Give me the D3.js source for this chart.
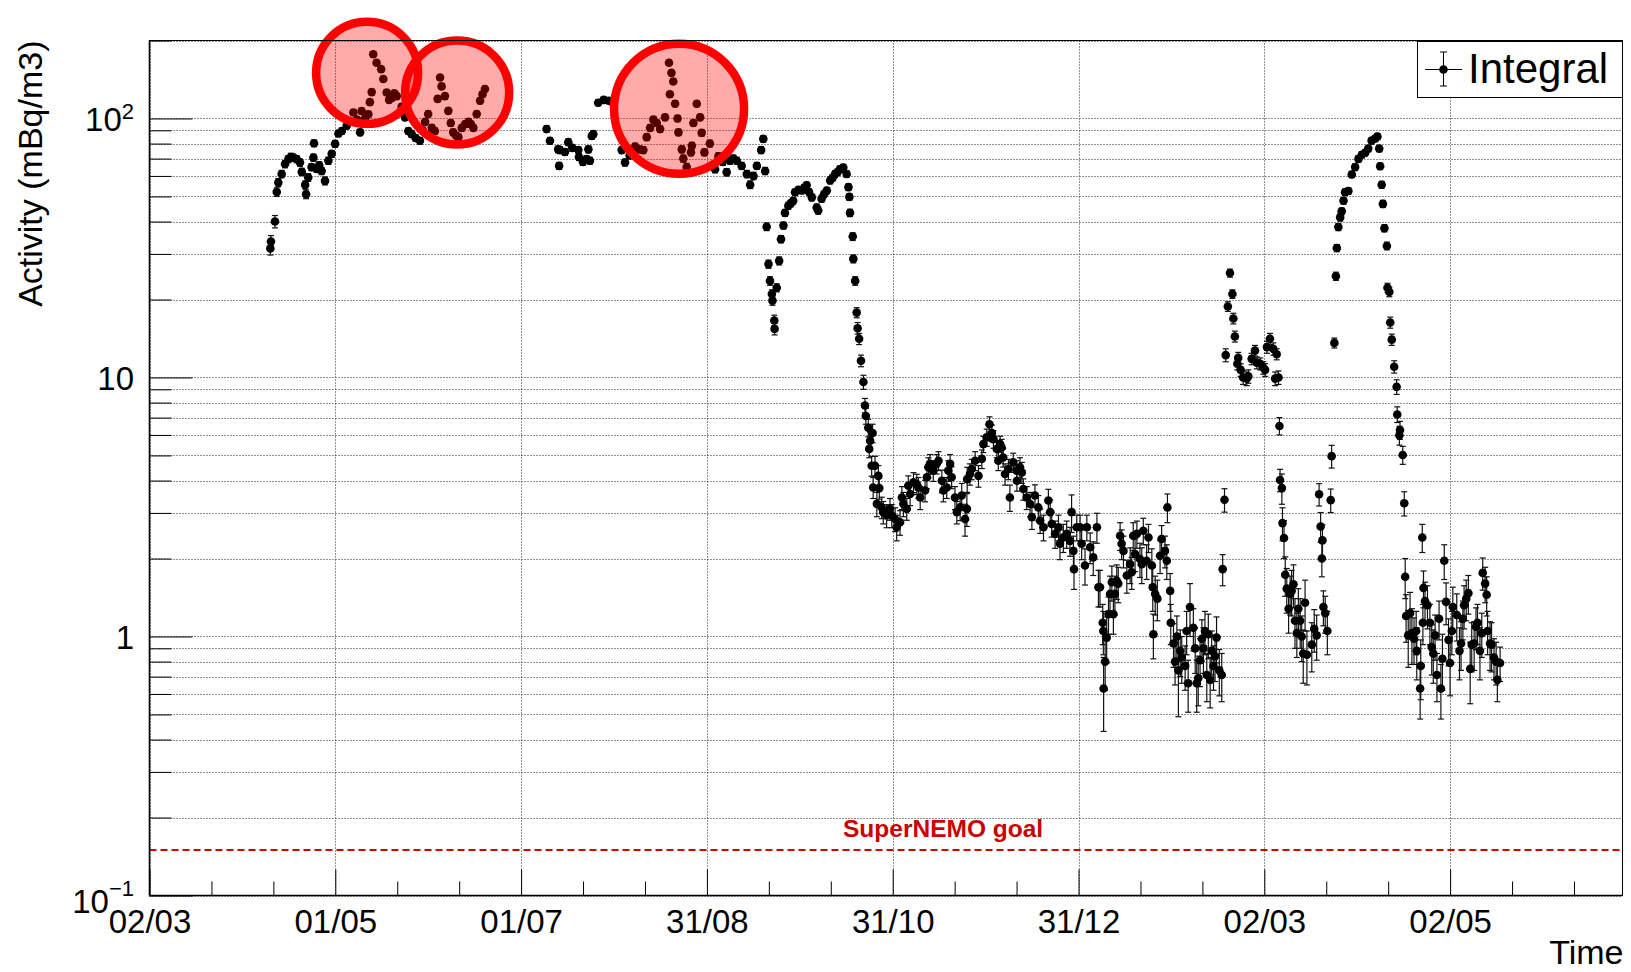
<!DOCTYPE html>
<html><head><meta charset="utf-8">
<script src="https://cdn.jsdelivr.net/npm/d3@7"></script>
<style>
body{margin:0;background:#fff}
svg{display:block}
text{font-family:"Liberation Sans",Arial,Helvetica,sans-serif}
</style>
</head><body>
<svg id="chart" width="1631" height="972"></svg>
<script>
// ---------------- DATA ----------------
// x: days since 02/03 (first year), y: activity (mBq/m3), err: error (mBq/m3)
const springData = [[39.6,31.5,1.8],[39.8,33.5,1.8],[41.1,40,2.2],[41.7,52,2],[42.2,56.6,2],[43.3,61,2],[44.4,66.7,2.2],[45.5,69.7,2.2],[46.3,71,2.4],[47.1,70.6,2.2],[48.2,69.7,2.2],[49.3,67.6,2.2],[49.9,62.2,2],[51.0,55.4,2],[51.3,51,2],[52.0,59.2,2],[53.1,64.9,2],[53.7,70.6,2.2],[53.9,80.2,2.4],[54.8,63.9,2],[55.6,66,2],[56.4,62.7,2],[57.5,57.4,2],[58.6,68.7,2.2],[59.7,73,2.2],[60.8,79.8,2.4],[61.9,87.5,2.5],[63.0,89.4,2.5],[64.6,93.8,2.6],[65.5,97,2.6],[66.8,105.5,2.8],[68.0,99,2.7],[69.0,88.4,2.5],[69.5,106.8,2.8],[70.6,100,2.7],[71.7,103.8,2.8],[72.2,115.6,3],[72.8,126.4,3.2],[73.3,177,4],[74.4,164,3.8],[75.9,155,3.6],[76.6,142,3.4],[77.7,126,3.2],[78.5,118,3],[79.4,120,3],[80.2,125,3.2],[81.0,122,3],[82.6,111,3],[83.7,101,2.8],[84.8,89.4,2.5],[85.9,87,2.5],[87.2,84,2.4],[88.6,82,2.4],[89.5,90,2.5],[90.3,97,2.6],[91.3,104,2.8],[92.5,92,2.6],[93.5,89.4,2.5],[94.4,119,3],[95.2,144,3.4],[95.7,133,3.2],[96.8,122,3],[97.9,107,2.8],[98.7,96,2.6],[99.5,88.4,2.5],[100.4,86,2.4],[101.2,84.7,2.4],[102.3,92,2.6],[103.4,95,2.6],[104.5,97,2.6],[105.3,95,2.6],[106.1,92,2.6],[107.2,104,2.8],[108.3,117,3],[109.1,124,3],[109.9,130,3.2]];

const summerData = [[130.1,91,2.6],[131.2,82,2.4],[133.9,76,2.3],[134.2,65.6,2],[134.5,75.5,2.3],[136.1,74.2,2.2],[137.2,81,2.4],[138.5,77,2.3],[140.5,75.5,2.3],[140.7,71,2.2],[142.0,68,2.1],[143.2,69.7,2.1],[143.8,76,2.3],[144.3,68.7,2.1],[144.9,85.6,2.5],[145.4,87,2.5],[147.0,115,3],[148.8,118,3],[150.5,117,3],[152.0,114,3],[154.7,75.5,2.3],[155.8,67.6,2.1],[157.3,72,2.2],[159.1,77.9,2.3],[160.5,76,2.3],[161.8,75.5,2.3],[162.9,84.7,2.5],[164.0,92,2.6],[165.1,99,2.7],[166.2,96,2.6],[167.3,91,2.6],[168.9,101,2.8],[170.2,164,3.8],[170.5,124,3.1],[171.0,150,3.5],[171.6,139,3.3],[172.2,114,3],[173.0,100,2.8],[173.3,88.4,2.5],[174.4,76,2.3],[174.9,70,2.2],[176.0,65,2.1],[177.4,74,2.2],[177.7,78.5,2.3],[178.2,96,2.6],[179.3,114,3],[180.4,101,2.8],[180.9,88,2.5],[181.8,74,2.2],[183.6,80,2.4],[185.3,63.7,2],[186.4,71.5,2.2],[187.8,68,2.1],[189.1,62,2],[190.2,68.7,2.1],[191.3,70,2.2],[192.4,68.7,2.1],[194.0,65.6,2],[195.7,61,2],[196.8,55.5,1.9],[197.9,60,2],[199.0,65.6,2],[200.4,75.5,2.3],[201.1,83.4,2.4],[201.7,62.7,2]];

const autumnData = [[202.2,38.2,1.3],[202.8,27.4,1],[203.3,23.6,0.9],[203.9,21,0.8],[204.1,19.8,0.8],[204.7,16.6,0.8],[204.8,15.4,0.8],[205.5,22.2,0.8],[206.3,28.2,1],[206.9,34.2,1.1],[207.7,38.6,1.2],[208.2,43.2,1.3],[209.3,46,1.4],[210.1,47,1.4],[210.9,48.1,1.4],[211.5,51.9,1.5],[212.6,53,1.5],[213.7,52.7,1.5],[214.5,54,1.6],[215.3,55.2,1.6],[216.1,52,1.5],[217.0,49.6,1.5],[218.6,45.3,1.4],[219.1,44.1,1.4],[220.2,49,1.5],[221.0,51,1.5],[221.9,52.7,1.5],[223.0,57.6,1.7],[223.8,59,1.7],[224.6,61,1.8],[225.4,62,1.8],[226.2,63.7,1.8],[227.3,64.6,1.9],[228.4,61,1.8],[229.0,54.3,1.6],[229.3,49.8,1.5],[229.5,43.2,1.4],[230.4,35,1.2],[230.6,28.7,1],[231.2,23.6,0.9],[231.7,17.8,0.8],[232.0,15.5,0.8],[232.5,14.1,0.7],[233.1,11.6,0.6],[233.9,9.6,0.6],[234.4,7.8,0.5],[234.7,7.1,0.5],[235.5,6.4,0.5],[235.8,5.3,0.4],[236.1,5.7,0.45],[236.6,4.56,0.4],[236.9,6.1,0.5],[237.1,3.76,0.35],[237.7,4.56,0.4],[238.3,3.25,0.35],[238.8,4.17,0.4],[239.1,3.74,0.35],[239.9,3.15,0.3],[240.4,3.02,0.3],[241.5,2.93,0.3],[242.6,3.11,0.3],[243.2,2.93,0.3],[244.3,2.84,0.3],[244.8,2.64,0.3],[245.9,2.76,0.3],[246.5,3.44,0.35],[247.0,3.25,0.35],[248.1,3.11,0.3],[248.6,3.82,0.35],[249.2,3.55,0.35],[250.3,3.94,0.35],[251.4,3.88,0.35],[251.9,3.76,0.35],[252.5,3.44,0.35],[254.1,3.66,0.35],[254.7,4.12,0.4],[255.2,4.5,0.4],[255.7,4.64,0.4],[256.8,4.37,0.4],[257.9,4.64,0.4],[258.5,4.77,0.4],[259.6,3.99,0.4],[260.1,3.66,0.35],[261.2,3.76,0.35],[261.7,4.37,0.4],[262.3,4.64,0.4],[262.8,4.12,0.4],[263.9,3.44,0.35],[264.5,3.02,0.3],[265.6,3.15,0.35],[266.1,3.5,0.4],[267.2,2.84,0.4],[267.8,3.11,0.45],[267.9,4.05,0.45],[268.8,4.24,0.4],[269.4,4.43,0.4],[270.5,4.77,0.4],[271.6,4.17,0.4],[272.7,4.85,0.4],[273.2,5.53,0.4],[274.3,5.87,0.45],[275.2,6.6,0.45],[276.0,6.1,0.45],[276.5,5.78,0.45],[277.6,5.3,0.4],[278.1,4.77,0.4],[278.7,5.53,0.4],[279.2,5.37,0.4],[279.7,4.91,0.4],[280.3,4.24,0.4],[281.4,4.43,0.4],[281.9,3.44,0.4],[283.0,4.7,0.4],[284.1,4.37,0.4],[284.2,3.99,0.35],[285.2,4.5,0.4],[285.8,4.3,0.4],[286.3,3.71,0.35],[287.4,3.44,0.35],[288.5,3.25,0.35],[289.1,2.89,0.3],[290.1,3.5,0.35],[291.2,3.15,0.35],[291.8,2.8,0.3],[292.9,2.64,0.3],[294.5,3.35,0.35],[295.1,3.02,0.35],[295.6,2.72,0.3],[296.7,2.49,0.3],[297.8,2.64,0.3],[298.3,2.28,0.3],[299.4,2.41,0.3],[300.5,2.49,0.3],[301.6,2.34,0.3],[302.1,3.02,0.5],[302.7,2.14,0.3],[302.9,1.82,0.3],[303.8,2.64,0.3],[304.9,2.64,0.3],[305.4,2.28,0.3],[306.5,1.88,0.3],[307.1,2.64,0.3],[308.2,2.21,0.3],[309.2,2.02,0.3],[310.4,2.64,0.35],[310.9,1.55,0.25]];

const winterData = [[311.4,1.55,0.25],[312.3,1.13,0.2],[312.5,1.05,0.2],[312.6,0.63,0.2],[313.1,0.8,0.18],[313.6,0.99,0.2],[314.2,1.22,0.2],[314.7,1.46,0.25],[315.3,1.62,0.25],[315.8,1.22,0.2],[316.3,1.46,0.25],[316.9,1.64,0.25],[317.4,1.6,0.25],[318.0,2.45,0.3],[318.5,2.28,0.3],[319.1,2.14,0.3],[320.2,1.72,0.25],[321.3,1.9,0.3],[321.8,1.77,0.25],[322.3,2.45,0.3],[322.9,2.08,0.3],[323.5,2.49,0.3],[324.5,1.99,0.3],[325.1,1.9,0.3],[325.6,2.56,0.3],[326.7,1.96,0.3],[327.3,2.41,0.3],[328.4,1.88,0.3],[328.7,1.55,0.3],[328.9,1.02,0.2],[329.5,1.46,0.25],[330.2,1.4,0.25],[331.1,2.05,0.3],[331.6,2.38,0.3],[332.7,2.14,0.3],[333.3,1.96,0.3],[333.5,3.15,0.4],[334.4,1.5,0.25],[334.6,1.13,0.2],[335.5,0.94,0.18],[336.0,0.8,0.15],[336.6,1.0,0.2],[337.1,0.74,0.25],[337.7,0.88,0.18],[338.2,0.83,0.17],[339.3,0.77,0.15],[339.8,1.05,0.2],[340.3,0.66,0.15],[340.9,1.3,0.3],[342.0,1.08,0.2],[342.6,0.9,0.18],[343.1,0.66,0.15],[343.6,0.69,0.15],[344.2,0.81,0.17],[344.8,0.98,0.18],[345.3,0.9,0.18],[345.8,1.05,0.2],[346.4,0.71,0.15],[346.9,1.02,0.2],[347.5,0.68,0.15],[348.0,0.88,0.17],[348.6,0.77,0.15],[349.1,0.84,0.17],[349.6,0.99,0.2],[350.5,0.74,0.15],[351.3,0.71,0.15],[351.6,1.82,0.25],[352.2,3.37,0.35]];

const spring2Data = [[352.6,12.2,0.7],[353.3,18.8,0.8],[354.0,25.3,0.9],[354.8,21,0.8],[355.1,16.9,0.8],[355.6,14.4,0.7],[356.4,11.3,0.6],[356.7,11.9,0.6],[357.5,10.7,0.6],[358.3,10.0,0.6],[359.5,9.9,0.6],[360.0,10.1,0.6],[361.1,11.8,0.6],[362.2,12.7,0.6],[362.8,11.4,0.6],[363.9,11.3,0.6],[364.9,10.9,0.6],[365.5,10.7,0.6],[366.1,13.1,0.7],[367.1,14.1,0.7],[368.2,12.9,0.7],[368.8,9.9,0.6],[369.3,12.3,0.6],[369.9,10.0,0.6],[370.2,6.5,0.5],[370.4,4.02,0.4],[371.0,3.74,0.5],[371.2,2.74,0.4],[371.7,2.4,0.4],[372.1,1.73,0.3],[372.6,1.53,0.3],[373.2,1.28,0.25],[373.7,1.46,0.25],[374.2,1.5,0.3],[374.8,1.59,0.3],[375.3,1.15,0.25],[375.9,1.03,0.2],[376.4,1.28,0.25],[377.0,1.15,0.25],[377.5,1.0,0.2],[378.0,0.86,0.2],[378.6,1.35,0.3],[379.2,0.85,0.2],[380.8,0.93,0.2],[381.6,1.07,0.2],[382.4,1.01,0.2],[383.2,3.54,0.35],[383.7,2.66,0.35],[384.1,2.0,0.3],[384.3,2.35,0.35],[384.6,1.3,0.2],[385.2,1.23,0.2],[385.9,1.05,0.2],[387.0,3.36,0.35],[387.3,4.97,0.5],[388.2,13.6,0.6],[388.7,24.6,0.9],[389.0,31.6,1],[389.5,38.1,1.2],[390.1,41.5,1.3],[390.6,43.8,1.3],[391.2,48.1,1.4],[391.7,51.9,1.5],[392.8,52.5,1.5],[393.9,60.8,1.7],[395.0,64.9,1.8],[396.1,69.8,2],[397.2,72.4,2],[398.3,73.7,2],[399.3,76.5,2.1],[400.4,82.1,2.2],[401.6,83.7,2.3],[402.3,85.2,2.3],[402.9,76.5,2.1],[403.2,65.4,1.9],[403.7,55.5,1.7],[404.1,46.8,1.5],[404.6,37.7,1.2],[405.4,32.2,1.1],[405.6,22.2,0.9],[406.2,21.4,0.9],[406.5,16.3,0.8],[407.0,14.0,0.7],[407.8,11.0,0.6],[408.6,9.2,0.6],[408.8,7.2,0.5],[409.5,5.98,0.5],[409.7,6.27,0.5],[410.6,5.02,0.4],[411.1,3.27,0.35],[411.4,1.70,0.3],[411.7,1.20,0.25],[412.4,1.01,0.25],[413.0,1.23,0.25],[413.6,1.03,0.25],[414.3,0.98,0.2],[415.0,1.05,0.2],[415.2,0.88,0.2],[416.3,0.63,0.15],[416.5,0.77,0.2],[417.0,2.41,0.3],[417.2,1.13,0.2],[417.4,1.54,0.25],[417.9,1.37,0.25],[418.7,1.32,0.25],[419.5,1.13,0.2],[420.1,0.91,0.2],[420.6,0.86,0.2],[421.2,1.01,0.2],[421.8,0.71,0.15],[422.5,1.17,0.2],[423.1,0.63,0.15],[423.6,0.82,0.2],[424.2,1.96,0.3],[424.8,1.36,0.25],[425.6,0.97,0.2],[426.1,0.79,0.2],[426.7,1.05,0.2],[427.0,1.30,0.25],[428.3,1.21,0.25],[429.2,0.88,0.2],[429.7,0.94,0.2],[430.3,1.17,0.2],[430.7,1.32,0.25],[431.4,1.40,0.25],[432.1,1.47,0.25],[432.7,0.75,0.2],[433.2,0.93,0.2],[434.0,0.94,0.2],[434.6,1.09,0.2],[435.1,1.13,0.2],[435.9,0.88,0.2],[436.5,1.03,0.2],[436.8,1.76,0.25],[437.6,1.60,0.25],[438.1,1.45,0.25],[438.4,1.05,0.2],[439.2,0.94,0.2],[439.7,0.93,0.2],[440.5,0.83,0.15],[441.2,0.80,0.15],[441.6,0.68,0.12],[442.5,0.79,0.12]];

// x axis: tick positions (days since 02/03) and labels
const xTickDays   = [0, 60.875, 121.75, 182.625, 243.5, 304.375, 365.25, 426.125];
const xTickLabels = ["02/03","01/05","01/07","31/08","31/10","31/12","02/03","02/05"];
const xMinorDays  = [20.29, 40.58, 81.17, 101.46, 142.04, 162.33, 202.92, 223.21, 263.79, 284.08, 324.67, 344.96, 385.54, 405.83, 446.42, 466.71];
const xDomainDays = [0, 482.6];

// y axis: log decades, labels (base + exponent)
const yDomain      = [0.1, 200];
const yMajorTicks  = [0.1, 1, 10, 100];
const yMajorBase   = ["10", "1", "10", "10"];
const yMajorExp    = ["\u22121", "", "", "2"];
const yMinorTicks  = [0.2,0.3,0.4,0.5,0.6,0.7,0.8,0.9,2,3,4,5,6,7,8,9,20,30,40,50,60,70,80,90,200];

// reference level and annotation circles (centre in data units)
const goalValue = 0.15;
const goalLabel = "SuperNEMO goal";
const highlightCentres = [[71.3, 150], [100.8, 126], [173.5, 109]];
const highlightRadii   = [51, 52, 65];

const yTitle = "Activity (mBq/m3)";
const xTitle = "Time";
const legendLabel = "Integral";

// ---------------- DRAW ----------------
const svg = d3.select("#chart");
const L = 149.5, R = 1622.5, T = 40.5, B = 895.5;
const x = d3.scaleLinear().domain(xDomainDays).range([L, R]);
const y = d3.scaleLog().domain(yDomain).range([B, T]);

svg.append("rect").attr("width",1631).attr("height",972).attr("fill","#fff");

// grid
const grid = svg.append("g").attr("stroke","#222").attr("stroke-width",1).attr("stroke-dasharray","1 2");
grid.selectAll("line.h").data(yMajorTicks.concat(yMinorTicks)).join("line")
  .attr("x1",L).attr("x2",R)
  .attr("y1",d=>Math.round(y(d))+0.5).attr("y2",d=>Math.round(y(d))+0.5);
grid.selectAll("line.v").data(xTickDays).join("line")
  .attr("x1",d=>Math.round(x(d))+0.5).attr("x2",d=>Math.round(x(d))+0.5)
  .attr("y1",T).attr("y2",B);

// goal line
svg.append("line")
  .attr("x1",L).attr("x2",R)
  .attr("y1",y(goalValue)).attr("y2",y(goalValue))
  .attr("stroke","#d40000").attr("stroke-width",2).attr("stroke-dasharray","7 4");
svg.append("text")
  .attr("x", x(260)).attr("y", y(goalValue)-13)
  .attr("text-anchor","middle").attr("font-weight","bold")
  .attr("font-size",24.5).attr("fill","#cc0000")
  .text(goalLabel);

// data
const allData = springData.concat(summerData, autumnData, winterData, spring2Data);
const eb = svg.append("g").attr("stroke","#111").attr("stroke-width",1.2);
allData.forEach(d=>{
  const cx = x(d[0]);
  const y1 = y(d[1]+d[2]), y0 = y(Math.max(d[1]-d[2], 0.101));
  eb.append("line").attr("x1",cx).attr("x2",cx).attr("y1",y0).attr("y2",y1);
  eb.append("line").attr("x1",cx-3).attr("x2",cx+3).attr("y1",y0).attr("y2",y0);
  eb.append("line").attr("x1",cx-3).attr("x2",cx+3).attr("y1",y1).attr("y2",y1);
});
svg.append("g").selectAll("circle").data(allData).join("circle")
  .attr("cx",d=>x(d[0])).attr("cy",d=>y(d[1])).attr("r",4.3).attr("fill","#000");

// highlight circles
svg.append("g").selectAll("circle").data(highlightCentres).join("circle")
  .attr("cx",d=>x(d[0])).attr("cy",d=>y(d[1]))
  .attr("r",(d,i)=>highlightRadii[i])
  .attr("fill","rgba(255,0,0,0.33)").attr("stroke","#ff0000").attr("stroke-width",8.5);

// axes (ticks)
const yMajAxis = d3.axisLeft(y).tickValues(yMajorTicks).tickSize(-43).tickSizeOuter(0).tickFormat("");
const yMinAxis = d3.axisLeft(y).tickValues(yMinorTicks).tickSize(-22).tickSizeOuter(0).tickFormat("");
const gy1 = svg.append("g").attr("transform",`translate(${L},0)`).call(yMajAxis);
const gy2 = svg.append("g").attr("transform",`translate(${L},0)`).call(yMinAxis);
[gy1,gy2].forEach(g=>{g.select(".domain").remove(); g.selectAll("line").attr("stroke","#000");});

const xMajAxis = d3.axisBottom(x).tickValues(xTickDays).tickSize(-26).tickSizeOuter(0).tickFormat((d,i)=>xTickLabels[i]);
const xMinAxis = d3.axisBottom(x).tickValues(xMinorDays).tickSize(-14).tickSizeOuter(0).tickFormat("");
const gx1 = svg.append("g").attr("transform",`translate(0,${B})`).call(xMajAxis);
const gx2 = svg.append("g").attr("transform",`translate(0,${B})`).call(xMinAxis);
[gx1,gx2].forEach(g=>{g.select(".domain").remove(); g.selectAll("line").attr("stroke","#000");});
gx1.selectAll("text").attr("font-size",33).attr("fill","#000")
  .attr("font-family",'"Liberation Sans",Arial,sans-serif')
  .attr("dy",null).attr("y",37);

// y labels
yMajorTicks.forEach((v,i)=>{
  const yy = y(v) + (i===0 ? 17 : 12.5);
  const t = svg.append("text").attr("text-anchor","end").attr("font-size",33).attr("fill","#000");
  if (yMajorExp[i]) {
    t.attr("x",134).attr("y",yy);
    t.append("tspan").text(yMajorBase[i]);
    t.append("tspan").attr("font-size",22).attr("dy",i===0?-17:-12).text(yMajorExp[i]);
  } else {
    t.attr("x",134).attr("y",yy).text(yMajorBase[i]);
  }
});

// frame
svg.append("rect").attr("x",L).attr("y",T).attr("width",R-L).attr("height",B-T)
  .attr("fill","none").attr("stroke","#000").attr("stroke-width",1);
svg.append("line").attr("x1",L).attr("x2",L).attr("y1",T).attr("y2",B).attr("stroke","#000").attr("stroke-width",1.6);
svg.append("line").attr("x1",L).attr("x2",R).attr("y1",B).attr("y2",B).attr("stroke","#000").attr("stroke-width",1.6);

// titles
svg.append("text").attr("transform",`translate(41.5,${T}) rotate(-90)`)
  .attr("text-anchor","end").attr("font-size",34).attr("fill","#000").text(yTitle);
svg.append("text").attr("x",R+1).attr("y",964)
  .attr("text-anchor","end").attr("font-size",34).attr("fill","#000").text(xTitle);

// legend
const lg = svg.append("g");
lg.append("rect").attr("x",1417.5).attr("y",41.5).attr("width",205).attr("height",56)
  .attr("fill","#fff").attr("stroke","#000").attr("stroke-width",1);
lg.append("line").attr("x1",1425).attr("x2",1462).attr("y1",69.5).attr("y2",69.5).attr("stroke","#000");
lg.append("line").attr("x1",1443.5).attr("x2",1443.5).attr("y1",52).attr("y2",86).attr("stroke","#000");
lg.append("line").attr("x1",1440).attr("x2",1447).attr("y1",52).attr("y2",52).attr("stroke","#000");
lg.append("line").attr("x1",1440).attr("x2",1447).attr("y1",86).attr("y2",86).attr("stroke","#000");
lg.append("circle").attr("cx",1443.5).attr("cy",69.5).attr("r",4.3).attr("fill","#000");
lg.append("text").attr("x",1468).attr("y",83).attr("font-size",42).attr("fill","#000").text(legendLabel);
</script>
</body></html>
